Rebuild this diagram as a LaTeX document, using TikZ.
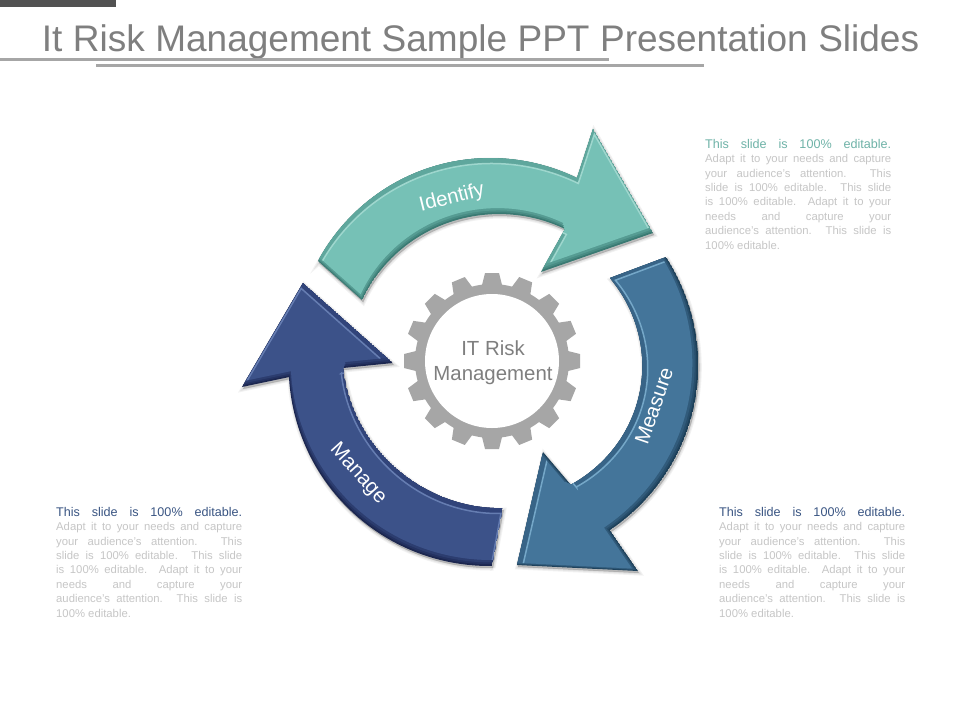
\documentclass[tikz,border=0pt]{standalone}
\usepackage{fontspec}
\setmainfont{Liberation Sans}
\definecolor{tealmain}{HTML}{76C1B6}
\definecolor{tealband}{HTML}{5FA79D}
\definecolor{tealdark}{HTML}{3A7A73}
\definecolor{teallight}{HTML}{A8DDD4}
\definecolor{bluemain}{HTML}{44759A}
\definecolor{blueband}{HTML}{386487}
\definecolor{bluedark}{HTML}{1D4059}
\definecolor{bluelight}{HTML}{7FB2D2}
\definecolor{navymain}{HTML}{3C5289}
\definecolor{navyband}{HTML}{31447A}
\definecolor{navydark}{HTML}{1C2750}
\definecolor{navylight}{HTML}{6E86BA}
\definecolor{geargray}{HTML}{A6A6A6}
\definecolor{titlegray}{HTML}{7F7F7F}
\definecolor{bodygray}{HTML}{C6C6C6}
\definecolor{headteal}{HTML}{6FB3A8}
\definecolor{headnavy}{HTML}{3A5583}
\tikzset{
  rule/.style={draw=geargray,line width=3pt},
  armlabel/.style={text=white,font=\fontsize{20.5}{24}\selectfont,inner sep=0pt},
}
\newcommand\arcseg[5]{-- plot[domain=#1:#3,samples=48,variable=\va,smooth]
  ({490+(#2+(#4-#2)*((\va-(#1))/((#3)-(#1)))+#5*sin(180*((\va-(#1))/((#3)-(#1)))))*cos(\va)},
   {362-(#2+(#4-#2)*((\va-(#1))/((#3)-(#1)))+#5*sin(180*((\va-(#1))/((#3)-(#1)))))*sin(\va)})}
\def\shpI{(318,261) \arcseg{149.6}{199.5}{64.7}{203.5}{2} -- (593,129) -- (653,233) -- (541,272) -- (565,229) \arcseg{60.6}{152.7}{154.2}{142}{-2} -- cycle}
\def\shpM{(666,257) \arcseg{30.8}{205}{-54.5}{206.5}{3} -- (638,571) -- (517,565) -- (543,452) -- (571,485) \arcseg{-56.6}{147}{35}{146.5}{6} -- cycle}
\def\shpN{(492,566) \arcseg{270.6}{204}{184.3}{201.6}{1} -- (242,387) -- (303,283) -- (393,363) -- (343,368) \arcseg{182.3}{147}{275}{146.6}{-5} -- cycle}
% path, main, band, dark, light, dx, dy
\newcommand\bevelarrow[7]{%
  \foreach \w in {5,3,1}{\fill[black,opacity=.07,line width=\w pt,draw=black,draw opacity=.05,shift={(1,2)}] #1;}
  \begin{scope}
    \clip #1;
    \fill[#4] #1;
    \begin{scope}
      \clip[shift={(.3*#6,.3*#7)}] #1;
      \fill[#4!60!#3] #1;
      \begin{scope}
        \clip[shift={(.6*#6,.6*#7)}] #1;
        \fill[#4!25!#3] #1;
        \begin{scope}
          \clip[shift={(#6,#7)}] #1;
          \fill[#3] #1;
          \begin{scope}
            \clip[shift={(-.9*#6,-.9*#7)}] #1;
            \fill[#2] #1;
          \end{scope}
          \draw[#5,line width=1.5pt,opacity=.85,shift={(-.9*#6,-.9*#7)}] #1;
        \end{scope}
      \end{scope}
    \end{scope}
  \end{scope}
}
\newcommand\jl[1]{\hbox to 186pt{#1}}
\newcommand\blocktext[1]{\parbox[t]{186pt}{\fontsize{11.3}{14.4}\selectfont
  \jl{\fontsize{12.6}{14.4}\selectfont\color{#1}This slide is 100\% editable.}
  \color{bodygray}
  \jl{Adapt it to your needs and capture}
  \jl{your audience's attention. This}
  \jl{slide is 100\% editable. This slide}
  \jl{is 100\% editable. Adapt it to your}
  \jl{needs and capture your}
  \jl{audience's attention. This slide is}
  \hbox{100\% editable.}}}
\begin{document}
\begin{tikzpicture}[x=1pt,y=-1pt]
\useasboundingbox (0,0) rectangle (960,720);
\fill[white] (0,0) rectangle (960,720);
% header
\fill[black!68] (0,0) rectangle (116,7);
\node[anchor=base,text=titlegray,font=\fontsize{37}{40}\selectfont,inner sep=0pt] (title) at (480.5,51)
  {\spaceskip=.283em It Risk Management Sample PPT Presentation Slides};
\coordinate (r1a) at (0,59); \coordinate (r1b) at (609,59);
\coordinate (r2a) at (96,65.5); \coordinate (r2b) at (704,65.5);
\draw[rule] (r1a) -- (r1b);
\draw[rule] (r2a) -- (r2b);
% gear
\fill[geargray] (492,361) circle[radius=77];
\foreach \k in {0,...,15}{
  \begin{scope}[shift={(492,361)},rotate=22.5*\k]
    \fill[geargray] (72,-11) -- (88,-7) -- (88,7) -- (72,11) -- cycle;
  \end{scope}
}
\node[circle,fill=white,minimum size=134pt,inner sep=0pt] (hub) at (492,361) {};
\node[align=center,text=titlegray,font=\fontsize{20.4}{25}\selectfont,inner sep=0pt] (hubtext) at (493,362.5) {IT Risk\\Management};
% arrows
\bevelarrow{\shpI}{tealmain}{tealband}{tealdark}{teallight}{-1.5}{-6}
\bevelarrow{\shpM}{bluemain}{blueband}{bluedark}{bluelight}{-6}{-2.5}
\bevelarrow{\shpN}{navymain}{navyband}{navydark}{navylight}{2}{-6}
% labels
\node[armlabel,rotate=14] (identify) at (452,198) {Identify};
\node[armlabel,rotate=71] (measure) at (654,406) {Measure};
\node[armlabel,rotate=-48] (manage) at (358,474) {Manage};
% text blocks
\node[anchor=north west,inner sep=0pt] (t1) at (705,139) {\blocktext{headteal}};
\node[anchor=north west,inner sep=0pt] (t2) at (719,507) {\blocktext{headnavy}};
\node[anchor=north west,inner sep=0pt] (t3) at (56,507) {\blocktext{headnavy}};
\end{tikzpicture}
\end{document}
